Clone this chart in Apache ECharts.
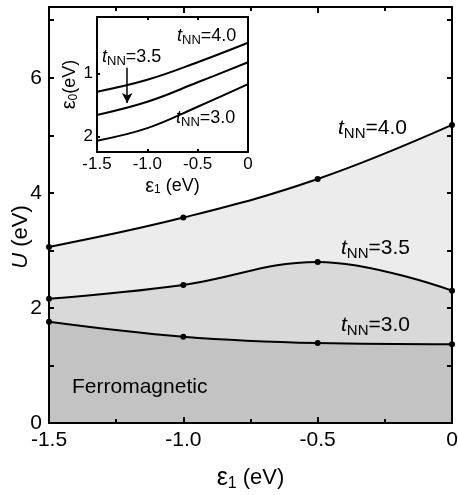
<!DOCTYPE html>
<html>
<head>
<meta charset="utf-8">
<script src="https://cdn.jsdelivr.net/npm/echarts@6/dist/echarts.min.js"></script>
<style>
  html, body { margin: 0; padding: 0; background: #fff; }
  #chart { width: 458px; height: 495px; }
</style>
</head>
<body>
<div id="chart"></div>
<script>
// phase boundary U vs eps1 for three t_NN values
const epsOne = [-1.5, -1.0, -0.5, 0];
const uTnn40 = [3.06, 3.57, 4.24, 5.18];
const uTnn35 = [2.16, 2.40, 2.80, 2.30];
const uTnn30 = [1.76, 1.50, 1.39, 1.37];

// inset: eps0 vs eps1
const insetEpsOne = [-1.5, -1.0, -0.5, 0];
const e0Tnn40 = [1.29, 1.10, 0.82, 0.51];
const e0Tnn35 = [1.66, 1.45, 1.14, 0.82];
const e0Tnn30 = [2.07, 1.87, 1.53, 1.17];

const mainYLabels = [0, 2, 4, 6];
const mainYTicks = [0, 1, 2, 3, 4, 5, 6, 7];
const insetYLabels = [1, 2];

const FONT = 'Liberation Sans, Arial, Helvetica, sans-serif';
const INK = '#000';

function pairs(xs, ys) {
    return xs.map((x, i) => [x, ys[i]]);
}

function xFmt(v) {
    return v === 0 ? '0' : v.toFixed(1);
}

// rich label "t_NN=x.x"
function tnnRich(size) {
    return {
        t: { fontFamily: FONT, fontSize: size, fontStyle: 'italic', fill: INK, color: INK },
        s: { fontFamily: FONT, fontSize: Math.round(size * 0.72), padding: [Math.round(size * 0.5), 0, 0, 0], fill: INK, color: INK },
        n: { fontFamily: FONT, fontSize: size, fill: INK, color: INK }
    };
}

function tnnText(value, x, y, size) {
    return {
        type: 'text',
        x: x,
        y: y,
        z: 100,
        style: {
            text: '{t|t}{s|NN}{n|=' + value + '}',
            rich: tnnRich(size),
            verticalAlign: 'middle',
            align: 'left'
        }
    };
}

const chart = echarts.init(document.getElementById('chart'));

const axisLine = { show: true, onZero: false, lineStyle: { color: INK, width: 2 } };

const option = {
    backgroundColor: '#fff',
    animation: false,
    textStyle: { fontFamily: FONT, color: INK },
    grid: [
        { left: 49, right: 6, top: 7, bottom: 72, outerBoundsMode: 'none', containLabel: false },
        { left: 97, width: 151, top: 17, height: 135, outerBoundsMode: 'none', containLabel: false,
          show: true, backgroundColor: '#fff', borderWidth: 0, z: 5 }
    ],
    xAxis: [
        {
            type: 'value', gridIndex: 0, min: -1.5, max: 0, interval: 0.5, position: 'bottom', z: 10,
            axisLine: axisLine,
            axisTick: { show: true, inside: true, length: 6, lineStyle: { color: INK, width: 2 } },
            minorTick: { show: true, splitNumber: 2, length: 4, lineStyle: { color: INK, width: 2 } },
            axisLabel: { color: INK, fontSize: 21, fontFamily: FONT, margin: 7, formatter: xFmt, showMinLabel: true, showMaxLabel: true },
            splitLine: { show: false },
            name: '{e|ε}{s|1}{n| (eV)}',
            nameLocation: 'middle',
            nameGap: 41,
            nameTextStyle: {
                rich: {
                    e: { fontFamily: FONT, fontSize: 25, color: INK },
                    s: { fontFamily: FONT, fontSize: 16, color: INK, padding: [12, 0, 0, 0] },
                    n: { fontFamily: FONT, fontSize: 22, color: INK }
                }
            }
        },
        {
            type: 'value', gridIndex: 0, min: -1.5, max: 0, interval: 0.5, position: 'top', z: 10,
            axisLine: axisLine,
            axisTick: { show: true, inside: true, length: 6, lineStyle: { color: INK, width: 2 } },
            minorTick: { show: true, splitNumber: 2, length: 4, lineStyle: { color: INK, width: 2 } },
            axisLabel: { show: false },
            splitLine: { show: false }
        },
        {
            type: 'value', gridIndex: 1, min: -1.5, max: 0, interval: 0.5, position: 'bottom', z: 20,
            axisLine: axisLine,
            axisTick: { show: true, inside: true, length: 3, lineStyle: { color: INK, width: 2 } },
            axisLabel: { color: INK, fontSize: 17, fontFamily: FONT, margin: 4, formatter: xFmt },
            splitLine: { show: false },
            name: '{e|ε}{s|1}{n| (eV)}',
            nameLocation: 'middle',
            nameGap: 24,
            nameTextStyle: {
                rich: {
                    e: { fontFamily: FONT, fontSize: 20, color: INK },
                    s: { fontFamily: FONT, fontSize: 12, color: INK, padding: [8, 0, 0, 0] },
                    n: { fontFamily: FONT, fontSize: 18, color: INK }
                }
            }
        },
        {
            type: 'value', gridIndex: 1, min: -1.5, max: 0, interval: 0.5, position: 'top', z: 20,
            axisLine: axisLine,
            axisTick: { show: true, inside: true, length: 3, lineStyle: { color: INK, width: 2 } },
            axisLabel: { show: false },
            splitLine: { show: false }
        }
    ],
    yAxis: [
        {
            type: 'value', gridIndex: 0, min: 0, max: 7.23, position: 'left', z: 10,
            axisLine: axisLine,
            axisTick: { show: true, inside: true, length: 5, customValues: mainYTicks, lineStyle: { color: INK, width: 2 } },
            axisLabel: { color: INK, fontSize: 21, fontFamily: FONT, margin: 7, customValues: mainYLabels },
            splitLine: { show: false },
            name: '{u|U}{n| (eV)}',
            nameLocation: 'middle',
            nameGap: 17,
            nameMoveOverlap: false,
            nameTextStyle: {
                padding: [0, 44, 0, 0],
                rich: {
                    u: { fontFamily: FONT, fontSize: 22, fontStyle: 'italic', color: INK },
                    n: { fontFamily: FONT, fontSize: 22, color: INK }
                }
            }
        },
        {
            type: 'value', gridIndex: 0, min: 0, max: 7.23, position: 'right', z: 10,
            axisLine: axisLine,
            axisTick: { show: true, inside: true, length: 5, customValues: mainYTicks, lineStyle: { color: INK, width: 2 } },
            axisLabel: { show: false },
            splitLine: { show: false }
        },
        {
            type: 'value', gridIndex: 1, min: 0.1, max: 2.25, inverse: true, position: 'left', z: 20,
            axisLine: axisLine,
            axisTick: { show: true, inside: true, length: 3, customValues: insetYLabels, lineStyle: { color: INK, width: 2 } },
            axisLabel: { color: INK, fontSize: 17, fontFamily: FONT, margin: 4, customValues: insetYLabels },
            splitLine: { show: false },
            name: '{e|ε}{s|0}{n|(eV)}',
            nameLocation: 'middle',
            nameGap: 13,
            nameTextStyle: {
                rich: {
                    e: { fontFamily: FONT, fontSize: 20, color: INK },
                    s: { fontFamily: FONT, fontSize: 12, color: INK, padding: [8, 0, 0, 0] },
                    n: { fontFamily: FONT, fontSize: 18, color: INK }
                }
            }
        },
        {
            type: 'value', gridIndex: 1, min: 0.1, max: 2.25, inverse: true, position: 'right', z: 20,
            axisLine: axisLine,
            axisTick: { show: false },
            axisLabel: { show: false },
            splitLine: { show: false }
        }
    ],
    series: [
        {
            name: 'tNN=4.0', type: 'line', xAxisIndex: 0, yAxisIndex: 0, z: 2,
            data: pairs(epsOne, uTnn40), smooth: 0.4,
            symbol: 'circle', symbolSize: 6, itemStyle: { color: INK },
            lineStyle: { color: INK, width: 2 },
            areaStyle: { color: '#ececec', opacity: 1, origin: 'start' }
        },
        {
            name: 'tNN=3.5', type: 'line', xAxisIndex: 0, yAxisIndex: 0, z: 3,
            data: pairs(epsOne, uTnn35), smooth: 0.4,
            symbol: 'circle', symbolSize: 6, itemStyle: { color: INK },
            lineStyle: { color: INK, width: 2 },
            areaStyle: { color: '#d9d9d9', opacity: 1, origin: 'start' }
        },
        {
            name: 'tNN=3.0', type: 'line', xAxisIndex: 0, yAxisIndex: 0, z: 4,
            data: pairs(epsOne, uTnn30), smooth: 0.4,
            symbol: 'circle', symbolSize: 6, itemStyle: { color: INK },
            lineStyle: { color: INK, width: 2 },
            areaStyle: { color: '#c3c3c3', opacity: 1, origin: 'start' }
        },
        {
            name: 'inset 4.0', type: 'line', xAxisIndex: 2, yAxisIndex: 2, z: 12,
            data: pairs(insetEpsOne, e0Tnn40), smooth: 0.4, showSymbol: false,
            lineStyle: { color: INK, width: 2 }
        },
        {
            name: 'inset 3.5', type: 'line', xAxisIndex: 2, yAxisIndex: 2, z: 12,
            data: pairs(insetEpsOne, e0Tnn35), smooth: 0.4, showSymbol: false,
            lineStyle: { color: INK, width: 2 },
            markLine: {
                silent: true,
                symbol: ['none', 'arrow'],
                symbolSize: [8, 10],
                label: { show: false },
                lineStyle: { color: INK, width: 1.5, type: 'solid' },
                data: [[{ coord: [-1.2, 0.91] }, { coord: [-1.2, 1.47] }]]
            }
        },
        {
            name: 'inset 3.0', type: 'line', xAxisIndex: 2, yAxisIndex: 2, z: 12,
            data: pairs(insetEpsOne, e0Tnn30), smooth: 0.4, showSymbol: false,
            lineStyle: { color: INK, width: 2 }
        }
    ],
    graphic: [
        tnnText('4.0', 338, 128, 21),
        tnnText('3.5', 341, 248, 21),
        tnnText('3.0', 341, 325, 21),
        {
            type: 'text', x: 72, y: 387, z: 100,
            style: { text: 'Ferromagnetic', font: '21px ' + FONT, fill: INK, verticalAlign: 'middle' }
        },
        tnnText('4.0', 177, 36, 18),
        tnnText('3.5', 102, 57, 18),
        tnnText('3.0', 176, 118, 18)
    ]
};

chart.setOption(option);
</script>
</body>
</html>
